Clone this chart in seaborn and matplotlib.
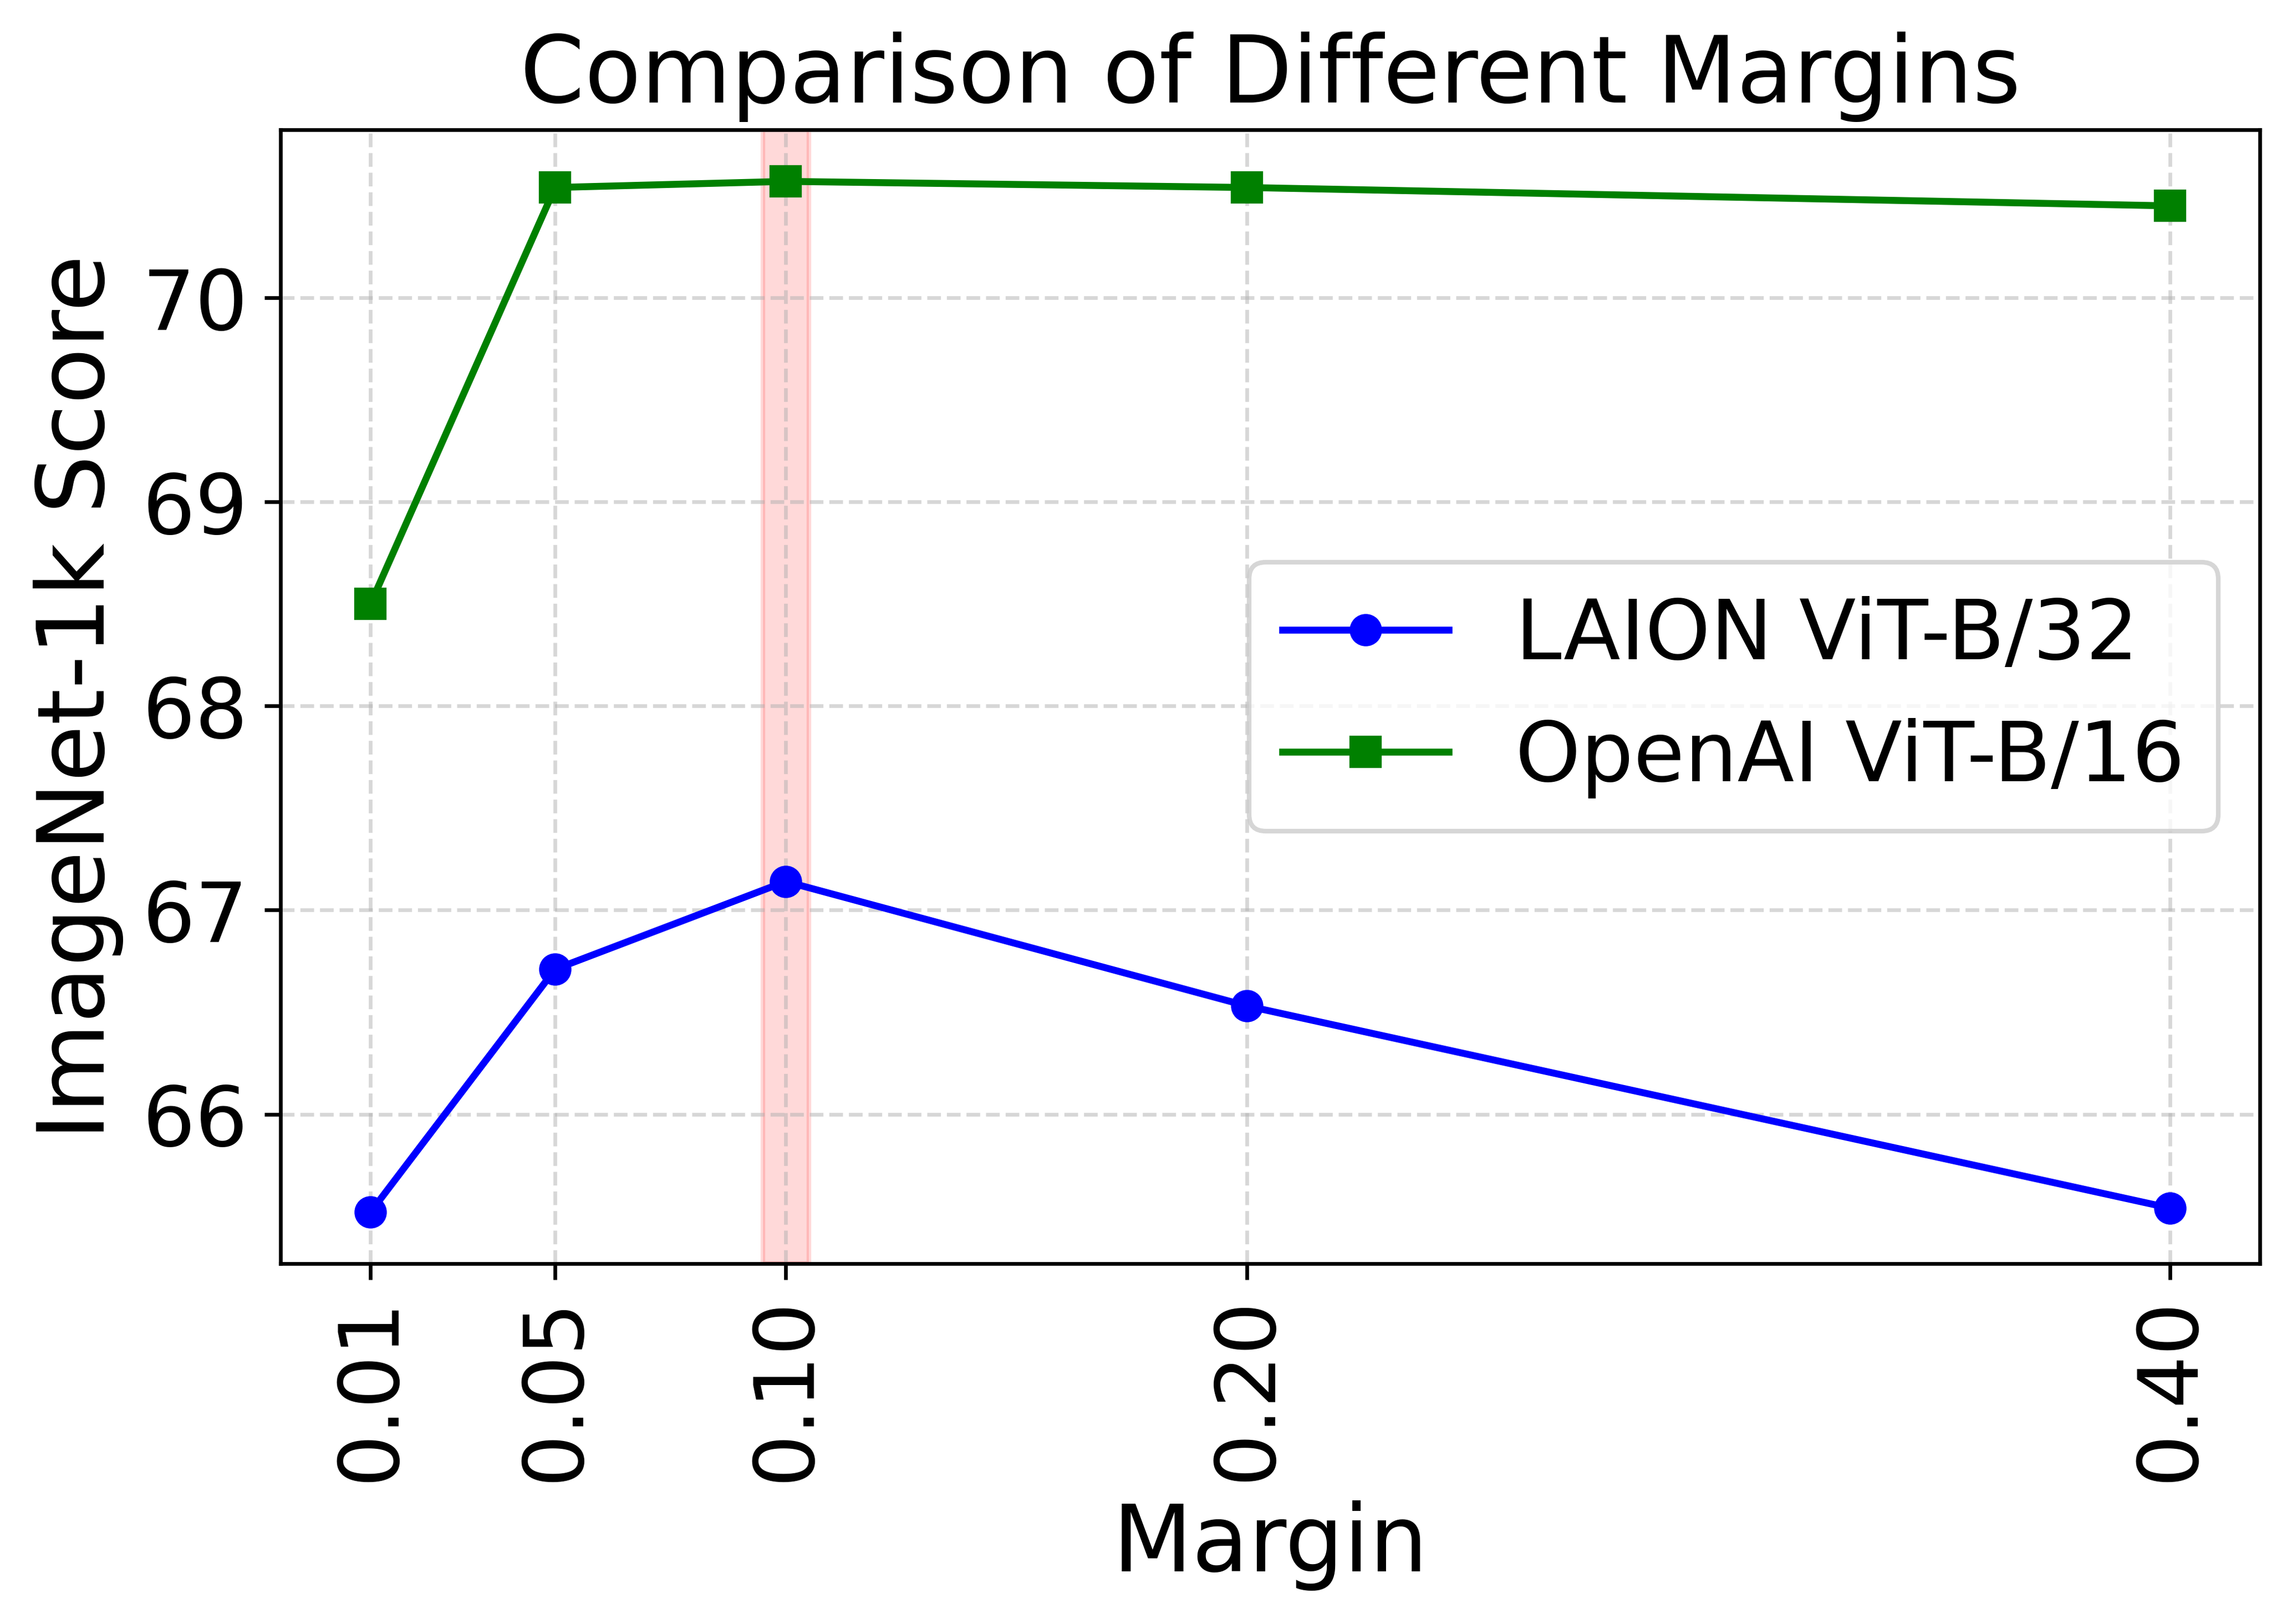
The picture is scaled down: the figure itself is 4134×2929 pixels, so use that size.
import matplotlib
matplotlib.use("Agg")
import matplotlib.pyplot as plt
import seaborn as sns
import pandas as pd

# Margin values and ImageNet-1k scores
margins = [0.01, 0.05, 0.10, 0.20, 0.40]
laion_b32 = [65.52, 66.71, 67.14, 66.53, 65.54]
openai_b16 = [68.50, 70.54, 70.57, 70.54, 70.45]
tick_labels = ["0.01", "0.05", "0.10", "0.20", "0.40"]
best_margin = 0.10

df = pd.DataFrame({"Margin": margins, "LAION": laion_b32, "OpenAI": openai_b16})

fig = plt.figure(figsize=(6.89, 4.883), dpi=600)
ax = fig.add_axes([0.1224, 0.2218, 0.8636, 0.6980])

sns.lineplot(data=df, x="Margin", y="LAION", marker="o", color="blue",
             markeredgecolor="blue", markeredgewidth=1, label="LAION ViT-B/32", ax=ax)
sns.lineplot(data=df, x="Margin", y="OpenAI", marker="s", color="green",
             markeredgecolor="green", markeredgewidth=1, label="OpenAI ViT-B/16", ax=ax)

# highlight the chosen margin
ax.axvspan(best_margin - 0.005, best_margin + 0.005, color="red", alpha=0.15)

ax.set_xticks(margins)
ax.set_xticklabels(tick_labels, rotation=90)
ax.tick_params(labelsize=18)
ax.set_title("Comparison of Different Margins", fontsize=20)
ax.set_xlabel("Margin", fontsize=20)
ax.set_ylabel("ImageNet-1k Score", fontsize=20)
ax.grid(True, linestyle="--", alpha=0.5)
ax.legend(loc="center right", fontsize=18)

fig.savefig("out.png", dpi=600)
